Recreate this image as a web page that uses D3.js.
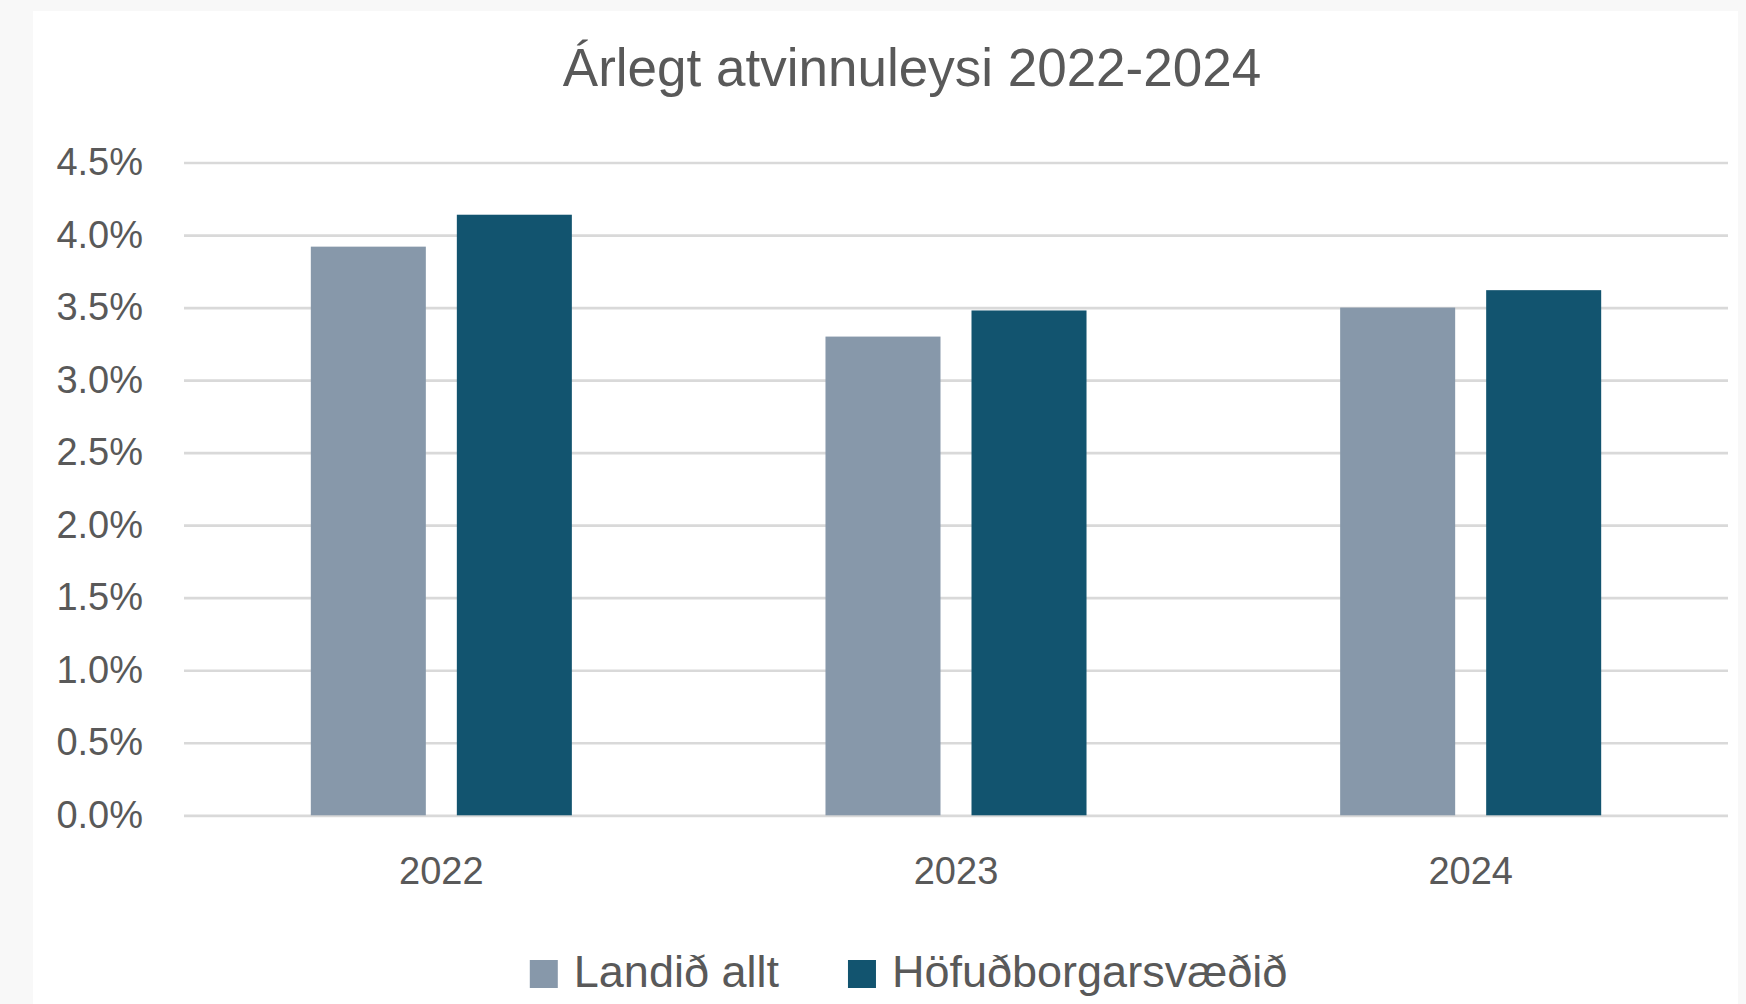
<!DOCTYPE html>
<html>
<head>
<meta charset="utf-8">
<script src="https://d3js.org/d3.v7.min.js"></script>
<style>
body {margin: 0; background: #f8f8f8;}
svg {display: block;}
text {font-family: "Liberation Sans", Arial, sans-serif; fill: #595959;}
.grid line {stroke: #d9d9d9; stroke-width: 2.7px;}
</style>
</head>
<body>
<svg width="1746" height="1004"></svg>
<script>
// data
var years = ["2022", "2023", "2024"];
var seriesNames = ["Landið allt", "Höfuðborgarsvæðið"];
var landidAllt = [0.0392, 0.0330, 0.0350];
var hofudborgarsvaedid = [0.0414, 0.0348, 0.0362];
var yTicks = [0, 0.005, 0.01, 0.015, 0.02, 0.025, 0.03, 0.035, 0.04, 0.045];
var colors = ["#8798aa", "#12546f"];

var svg = d3.select("svg");
var W = 1746, H = 1004;

// white chart panel
svg.append("rect")
    .attr("x", 33).attr("y", 11)
    .attr("width", 1705).attr("height", H - 11)
    .attr("fill", "#ffffff");

var plotLeft = 184, plotRight = 1728, plotTop = 162.5, plotBottom = 815.3;

var x0 = d3.scaleBand().domain(years).range([plotLeft, plotRight]);
var x1 = d3.scaleBand().domain(seriesNames)
    .range([0, x0.bandwidth()])
    .paddingInner(0.2123)
    .paddingOuter(0.8685);
var y = d3.scaleLinear().domain([0, 0.045]).range([plotBottom, plotTop]);

// gridlines + y labels
var yAxis = svg.append("g")
    .attr("class", "grid")
    .attr("transform", "translate(" + plotLeft + ",0)")
    .call(d3.axisLeft(y).tickValues(yTicks)
        .tickFormat(d3.format(".1%"))
        .tickSize(-(plotRight - plotLeft))
        .tickPadding(41));
yAxis.select(".domain").remove();
yAxis.selectAll("text")
    .style("font-size", "38px")
    .attr("fill", "#595959");

// bars
var rows = years.map(function(yr, i) {
    return {year: yr, values: [landidAllt[i], hofudborgarsvaedid[i]]};
});

var groups = svg.append("g").selectAll("g")
    .data(rows)
    .enter().append("g")
    .attr("transform", function(d) { return "translate(" + x0(d.year) + ",0)"; });

groups.selectAll("rect")
    .data(function(d) { return d.values.map(function(v, j) { return {name: seriesNames[j], value: v, j: j}; }); })
    .enter().append("rect")
    .attr("x", function(d) { return x1(d.name); })
    .attr("width", x1.bandwidth())
    .attr("y", function(d) { return y(d.value); })
    .attr("height", function(d) { return y(0) - y(d.value); })
    .attr("fill", function(d) { return colors[d.j]; });

// x axis labels
var xAxis = svg.append("g")
    .attr("transform", "translate(0," + plotBottom + ")")
    .call(d3.axisBottom(x0).tickSize(0).tickPadding(42));
xAxis.select(".domain").remove();
xAxis.selectAll("text")
    .style("font-size", "38px")
    .attr("fill", "#595959");

// title
svg.append("text")
    .attr("x", 912).attr("y", 86)
    .attr("text-anchor", "middle")
    .style("font-size", "53px")
    .text("Árlegt atvinnuleysi 2022-2024");

// legend
var legend = svg.append("g");
var lx = 0;
seriesNames.forEach(function(name, i) {
    var item = legend.append("g").attr("transform", "translate(" + lx + ",0)");
    item.append("rect")
        .attr("x", 0).attr("y", 960)
        .attr("width", 28).attr("height", 28)
        .attr("fill", colors[i]);
    var t = item.append("text")
        .attr("x", 44).attr("y", 987)
        .style("font-size", "45px")
        .text(name);
    lx += 44 + t.node().getComputedTextLength() + 69;
});
var lw = legend.node().getBBox().width;
legend.attr("transform", "translate(" + (908.5 - lw / 2) + ",0)");
</script>
</body>
</html>
